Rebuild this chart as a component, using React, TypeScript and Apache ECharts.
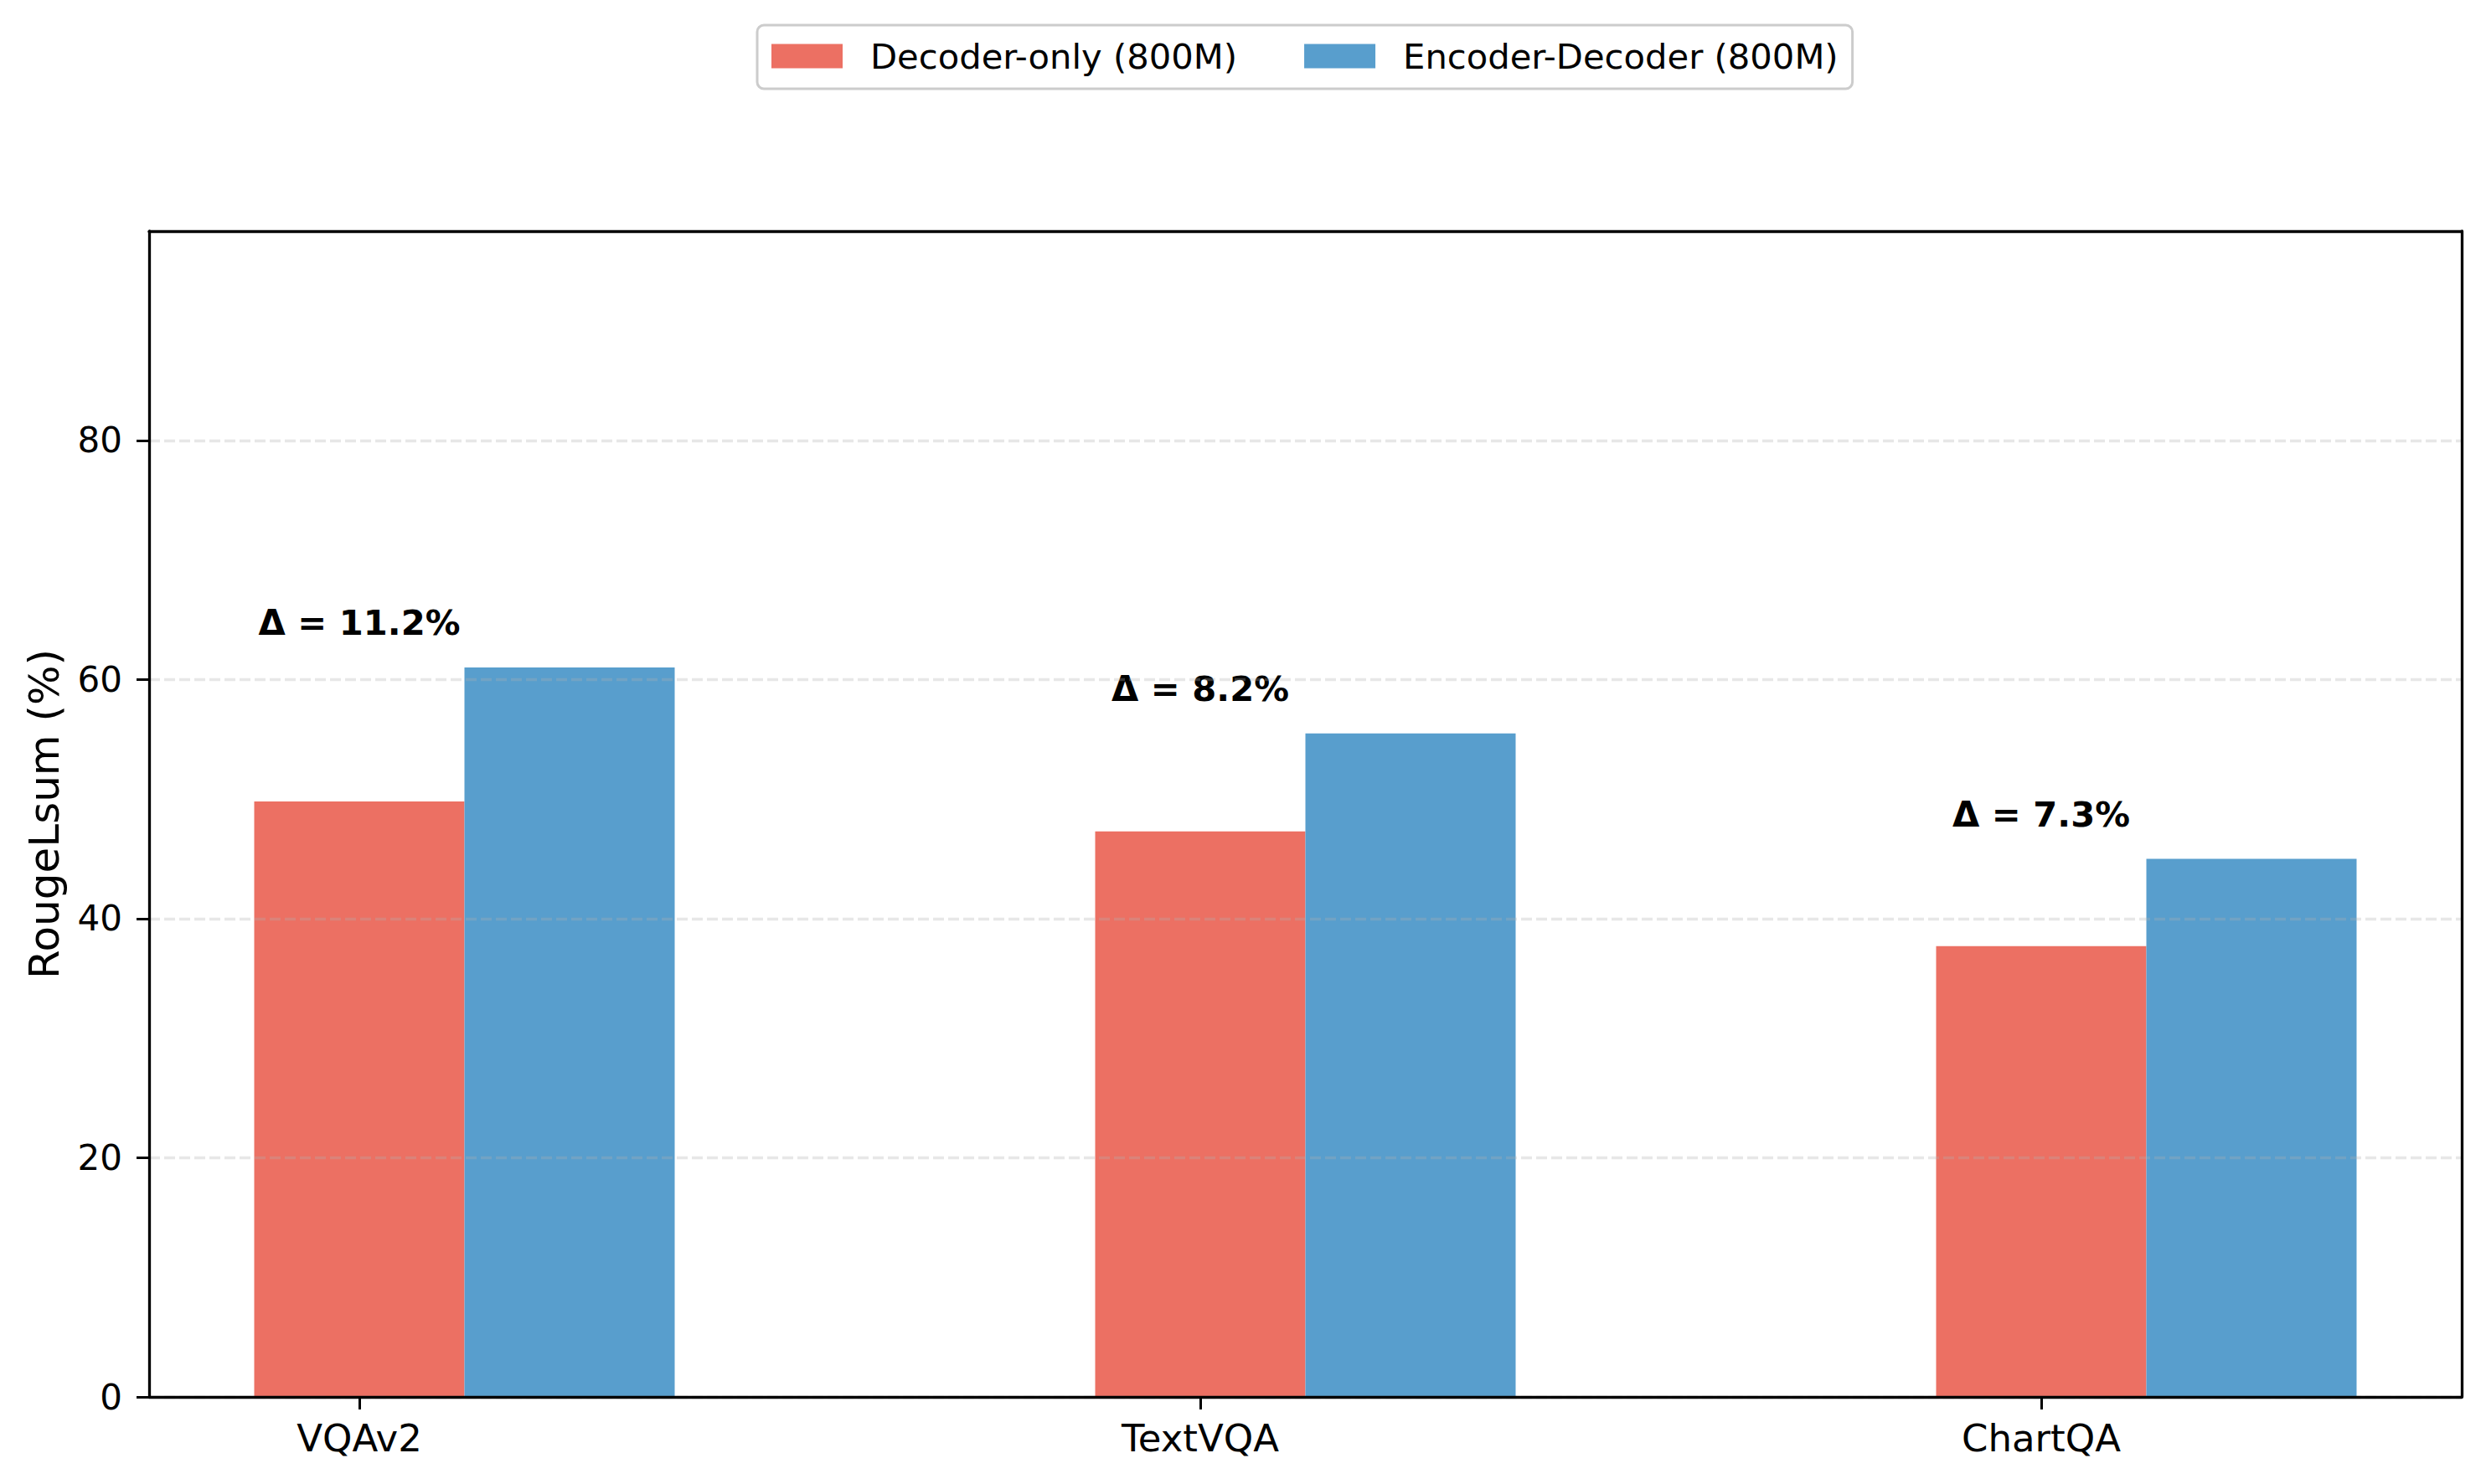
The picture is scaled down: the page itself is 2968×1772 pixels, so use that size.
import React, { useEffect, useRef } from "react";
import * as echarts from "echarts";

const categories = ["VQAv2", "TextVQA", "ChartQA"];
const decoderOnly = [49.8, 47.3, 37.7];
const encoderDecoder = [61.0, 55.5, 45.0];
const seriesNames = ["Decoder-only (800M)", "Encoder-Decoder (800M)"];
const yTicks = [0, 20, 40, 60, 80];
const xTicks = [0, 1, 2];
const yMax = 97.5;
const yName = "RougeLsum (%)";

export default function App() {
  const ref = useRef<HTMLDivElement>(null);
  useEffect(() => {
    const chart = echarts.init(ref.current!, null, { renderer: "svg" });
    const FONT = '"DejaVu Sans", sans-serif';
    const BAR_W = 0.25;
    const spine = { color: "#000", width: 3.3 };
    const RED = "#EC7063";
    const BLUE = "#589ECD";

    const barSeries = (name: string, values: number[], offset: number, color: string) => ({
      type: "custom",
      name,
      xAxisIndex: 0,
      yAxisIndex: 0,
      itemStyle: { color },
      data: values.map((v, i) => [i, v]),
      encode: { x: 0, y: 1 },
      z: 2,
      renderItem: (params: any, api: any) => {
        const i = api.value(0);
        const v = api.value(1);
        const p0 = api.coord([i + offset - BAR_W / 2, v]);
        const p1 = api.coord([i + offset + BAR_W / 2, 0]);
        return {
          type: "rect",
          shape: { x: p0[0], y: p0[1], width: p1[0] - p0[0], height: p1[1] - p0[1] },
          style: { fill: color },
        };
      },
    });

    const annotations = {
      type: "custom",
      name: "delta",
      xAxisIndex: 0,
      yAxisIndex: 0,
      data: categories.map((c, i) => [i, encoderDecoder[i], encoderDecoder[i] - decoderOnly[i]]),
      encode: { x: 0, y: 1 },
      z: 5,
      renderItem: (params: any, api: any) => {
        const i = api.value(0);
        const top = api.value(1);
        const d = api.value(2);
        const p = api.coord([i, top + 2.25]);
        return {
          type: "text",
          x: p[0],
          y: p[1],
          style: {
            text: `Δ = ${d.toFixed(1)}%`,
            fill: "#000",
            font: `bold 41.7px ${FONT}`,
            align: "center",
            verticalAlign: "bottom",
          },
        };
      },
    };

    chart.setOption({
      animation: false,
      backgroundColor: "#fff",
      textStyle: { fontFamily: FONT },
      grid: { left: 178, right: 29, top: 276, bottom: 104, show: false },
      legend: {
        data: seriesNames,
        left: 904,
        top: 30,
        orient: "horizontal",
        icon: "rect",
        itemWidth: 85,
        itemHeight: 29,
        itemGap: 80,
        padding: [16, 17, 18, 17],
        borderColor: "#cccccc",
        borderWidth: 3,
        borderRadius: 8,
        backgroundColor: "#fff",
        textStyle: {
          fontSize: 41.7,
          lineHeight: 42,
          color: "#000",
          fontFamily: FONT,
          padding: [0, 0, 0, 28],
        },
      },
      xAxis: [
        {
          type: "value",
          min: -0.25,
          max: 2.5,
          position: "bottom",
          z: 11,
          axisLine: { show: true, onZero: false, lineStyle: spine },
          axisTick: { show: true, customValues: xTicks, length: 15, lineStyle: { color: "#000", width: 3 } },
          axisLabel: {
            customValues: xTicks,
            formatter: (v: number) => categories[Math.round(v)] ?? "",
            margin: 27,
            fontSize: 45,
            color: "#000",
            fontFamily: FONT,
          },
          splitLine: { show: false },
        },
        {
          type: "value",
          min: -0.25,
          max: 2.5,
          position: "top",
          z: 11,
          axisLine: { show: true, onZero: false, lineStyle: spine },
          axisTick: { show: false },
          axisLabel: { show: false },
          splitLine: { show: false },
        },
      ],
      yAxis: [
        {
          type: "value",
          min: 0,
          max: yMax,
          interval: 20,
          z: 10,
          name: yName,
          nameLocation: "middle",
          nameGap: 100,
          nameTextStyle: { fontSize: 50, color: "#000", fontFamily: FONT },
          axisLine: { show: true, onZero: false, lineStyle: spine },
          axisTick: { show: true, customValues: yTicks, length: 15, lineStyle: { color: "#000", width: 3 } },
          axisLabel: { customValues: yTicks, margin: 32, fontSize: 42, color: "#000", fontFamily: FONT },
          splitLine: {
            show: true,
            lineStyle: { color: "rgba(176,176,176,0.3)", width: 3.3, type: [13, 5] },
          },
        },
        {
          type: "value",
          min: 0,
          max: yMax,
          position: "right",
          z: 11,
          axisLine: { show: true, onZero: false, lineStyle: spine },
          axisTick: { show: false },
          axisLabel: { show: false },
          splitLine: { show: false },
        },
      ],
      series: [
        barSeries(seriesNames[0], decoderOnly, 0, RED),
        barSeries(seriesNames[1], encoderDecoder, BAR_W, BLUE),
        annotations,
      ],
    });
    return () => chart.dispose();
  }, []);
  return (
    <div
      ref={ref}
      style={{ position: "fixed", left: 0, top: 0, width: 2968, height: 1772 }}
    />
  );
}
